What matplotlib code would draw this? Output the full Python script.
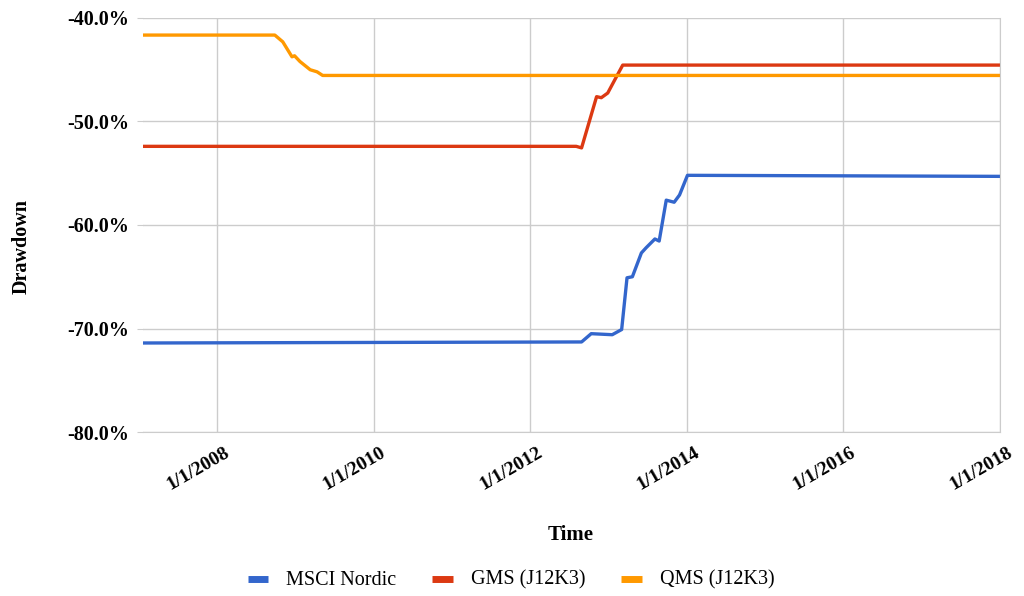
import numpy as np
import matplotlib.pyplot as plt
import matplotlib.transforms as mtransforms
import pandas as pd

plt.rcParams['font.family'] = ['Liberation Serif', 'DejaVu Serif']

# drawdown (%) at breakpoints
msci_dates = ['2007-01-21', '2012-08-28', '2012-10-12', '2013-01-18', '2013-03-03',
              '2013-03-28', '2013-04-22', '2013-06-03', '2013-06-25', '2013-08-05',
              '2013-08-25', '2013-09-27', '2013-11-03', '2013-11-28', '2014-01-04', '2018-01-01']
msci_vals = [-71.4, -71.3, -70.5, -70.6, -70.1, -65.1, -65.0, -62.7, -62.2, -61.35,
             -61.55, -57.6, -57.8, -57.1, -55.2, -55.3]

gms_dates = ['2007-01-21', '2012-08-03', '2012-08-28', '2012-11-06', '2012-11-28',
             '2012-12-28', '2013-02-06', '2013-03-08', '2018-01-01']
gms_vals = [-52.4, -52.4, -52.55, -47.6, -47.7, -47.25, -45.7, -44.55, -44.55]

qms_dates = ['2007-01-21', '2008-09-27', '2008-11-03', '2008-12-16', '2008-12-28',
             '2009-01-22', '2009-03-11', '2009-04-12', '2009-05-08', '2018-01-01']
qms_vals = [-41.65, -41.65, -42.3, -43.75, -43.65, -44.2, -45.0, -45.2, -45.55, -45.55]

series = [('MSCI Nordic', msci_dates, msci_vals, '#3366cc'),
          ('GMS (J12K3)', gms_dates, gms_vals, '#dc3912'),
          ('QMS (J12K3)', qms_dates, qms_vals, '#ff9900')]

fig = plt.figure(figsize=(10.24, 5.96), dpi=100)
ax = fig.add_axes([143/1024, 1-432/596, 857/1024, 414/596])

for name, d, v, c in series:
    ax.plot(pd.to_datetime(d), v, color=c, lw=2.4, label=name,
            solid_joinstyle='round', solid_capstyle='round')

ax.set_xlim(pd.Timestamp('2007-01-21'), pd.Timestamp('2018-01-01'))
ax.set_ylim(-80, -40)
ax.set_yticks([-80, -70, -60, -50, -40])
ax.set_yticklabels(['%.1f%%' % t for t in [-80, -70, -60, -50, -40]],
                   fontsize=14.5, fontweight='bold')
xt = pd.to_datetime(['2008-01-01', '2010-01-01', '2012-01-01', '2014-01-01',
                     '2016-01-01', '2018-01-01'])
ax.set_xticks(xt)
ax.set_xticklabels([])
# rotated date labels, shifted like the original
off = mtransforms.ScaledTranslation(0.11, -0.19, fig.dpi_scale_trans)
for t in xt:
    ax.text(t, 0, '1/1/%d' % t.year, transform=ax.get_xaxis_transform() + off,
            fontsize=14, fontweight='bold', rotation=30, ha='right', va='center',
            rotation_mode='anchor', clip_on=False)

ax.grid(True, color='#cccccc', lw=1)
ax.set_axisbelow(True)
for s in ['top', 'left']:
    ax.spines[s].set_visible(False)
for s in ['right', 'bottom']:
    ax.spines[s].set_color('#cccccc')
ax.tick_params(axis='x', length=0, pad=4)
ax.tick_params(axis='y', length=4, color='#cccccc', pad=6)

fig.text(571/1024, 1-535/596, 'Time', ha='center', va='center',
         fontsize=15, fontweight='bold')
fig.text(22/1024, 1-247/596, 'Drawdown', ha='center', va='center', rotation=90,
         fontsize=14.5, fontweight='bold')

fig.legend(loc='center', bbox_to_anchor=(511/1024, 1-580/596), ncol=3, frameon=False,
           fontsize=14.5, handlelength=1.0, handleheight=0.3, handletextpad=0.9,
           columnspacing=1.8)
for h in fig.legends[0].get_lines():
    h.set_linewidth(5)
    h.set_solid_capstyle('butt')

fig.savefig('out.png', dpi=100)
